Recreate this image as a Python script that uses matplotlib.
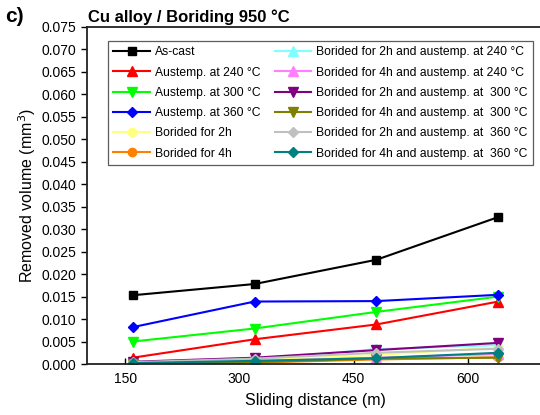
import matplotlib
matplotlib.use("Agg")
import matplotlib.pyplot as plt

plt.rcParams['font.family'] = ['Liberation Sans', 'DejaVu Sans']

# sliding distance (m)
distance = [160, 320, 480, 640]

# removed volume (mm^3)
as_cast = [0.0153, 0.0178, 0.0232, 0.0327]
aus_240 = [0.0014, 0.0055, 0.0088, 0.0139]
aus_300 = [0.0050, 0.0079, 0.0116, 0.0150]
aus_360 = [0.0082, 0.0139, 0.0140, 0.0154]
bor_2h = [0.0002, 0.0008, 0.0020, 0.0037]
bor_4h = [0.0001, 0.0003, 0.0010, 0.0015]
bor2_240 = [0.0003, 0.0010, 0.0033, 0.0042]
bor4_240 = [0.0002, 0.0006, 0.0014, 0.0022]
bor2_300 = [0.0005, 0.0014, 0.0031, 0.0047]
bor4_300 = [0.0001, 0.0004, 0.0012, 0.0014]
bor2_360 = [0.0004, 0.0012, 0.0025, 0.0034]
bor4_360 = [0.0002, 0.0007, 0.0013, 0.0025]

series = [
    (as_cast, "As-cast", "#000000", "s"),
    (aus_240, "Austemp. at 240 °C", "#FF0000", "^"),
    (aus_300, "Austemp. at 300 °C", "#00FF00", "v"),
    (aus_360, "Austemp. at 360 °C", "#0000FF", "D"),
    (bor_2h, "Borided for 2h", "#FFFF80", "o"),
    (bor_4h, "Borided for 4h", "#FF8000", "o"),
    (bor2_240, "Borided for 2h and austemp. at 240 °C", "#80FFFF", "^"),
    (bor4_240, "Borided for 4h and austemp. at 240 °C", "#FF80FF", "^"),
    (bor2_300, "Borided for 2h and austemp. at  300 °C", "#800080", "v"),
    (bor4_300, "Borided for 4h and austemp. at  300 °C", "#808000", "v"),
    (bor2_360, "Borided for 2h and austemp. at  360 °C", "#C0C0C0", "D"),
    (bor4_360, "Borided for 4h and austemp. at  360 °C", "#008080", "D"),
]

fig = plt.figure(figsize=(5.4, 4.15), dpi=100)
ax = fig.add_axes([87/540, 51/415, 457/540, 337/415])

for vals, lab, col, mk in series:
    ms = 6 if mk in ("s", "o") else 7
    if mk == "D":
        ms = 5.5
    ax.plot(distance, vals, color=col, marker=mk, markersize=ms, lw=1.5, label=lab)

ax.set_xlim(100, 700)
ax.set_ylim(0, 0.075)
ax.set_xticks([150, 300, 450, 600])
ax.set_yticks([i * 0.005 for i in range(16)])
ax.yaxis.set_major_formatter(matplotlib.ticker.FormatStrFormatter('%.3f'))
ax.tick_params(axis='x', direction='in', length=4, width=1, labelsize=10, pad=6)
ax.tick_params(axis='y', direction='out', length=4, width=1, labelsize=10)
for s in ax.spines.values():
    s.set_linewidth(1.3)
    s.set_color('#222222')

ax.set_xlabel("Sliding distance (m)", fontsize=11.5, labelpad=5)
ax.set_ylabel("Removed volume (mm$^3$)", fontsize=11.5, labelpad=3)

fig.text(88/540, 1 - 17/415, "Cu alloy / Boriding 950 °C", fontsize=12,
         fontweight='bold', va='center', ha='left')
fig.text(5/540, 1 - 16/415, "c)", fontsize=15, fontweight='bold', va='center', ha='left')

leg = ax.legend(ncol=2, loc='upper left', bbox_to_anchor=(108/540, 1 - 41/415),
                bbox_transform=fig.transFigure, fontsize=8.7, frameon=True,
                fancybox=False, edgecolor='#333333', handlelength=3.0,
                handletextpad=0.4, labelspacing=0.68, columnspacing=1.2,
                borderpad=0.45, borderaxespad=0, markerscale=1.0)
leg.get_frame().set_linewidth(0.9)

fig.savefig("out.png", dpi=100)
